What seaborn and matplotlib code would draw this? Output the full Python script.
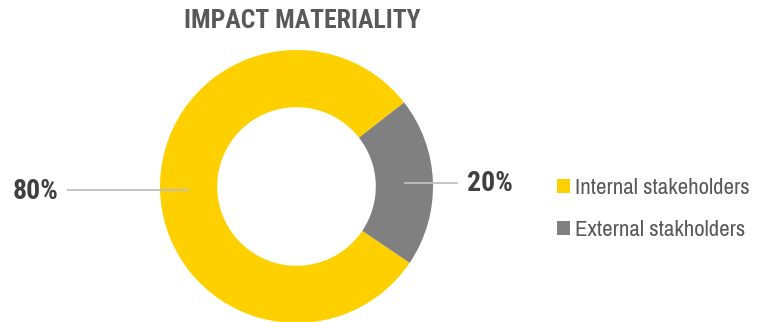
import numpy as np
import matplotlib
matplotlib.use("Agg")
import matplotlib.pyplot as plt
from matplotlib.patches import Patch
import seaborn as sns

# Data
categories = ["Internal stakeholders", "External stakholders"]
shares = [80, 20]
title = "IMPACT MATERIALITY"

sns.set_theme(style="white")
plt.rcParams["font.family"] = ["Archivo Narrow", "Liberation Sans", "DejaVu Sans"]
bold_family = ["Roboto Condensed", "Liberation Sans", "DejaVu Sans"]
colors = sns.color_palette(["#FFD000", "#808080"])

W, H = 759, 322
fig = plt.figure(figsize=(W / 100, H / 100), dpi=100)
ax = fig.add_axes([0, 0, 1, 1])
ax.set_aspect("equal")
ax.axis("off")

cx, cy = 296.5, H - 186.5
r_out, r_in = 136.5, 79.3
start = 38

wedges, _ = ax.pie(
    shares, colors=colors, startangle=start, counterclock=True,
    radius=r_out, center=(cx, cy),
    wedgeprops=dict(width=r_out - r_in, edgecolor="none"),
)
ax.set_xlim(0, W)
ax.set_ylim(0, H)

# Value labels with leader lines from the middle of each ring segment
r_mid = (r_out + r_in) / 2
label_color = "#404040"
line_color = "#BFBFBF"
for w, v in zip(wedges, shares):
    ang = np.deg2rad((w.theta1 + w.theta2) / 2)
    x0 = cx + r_mid * np.cos(ang)
    y0 = cy + r_mid * np.sin(ang)
    if np.cos(ang) < 0:
        x1, tx, ha = 67, 58.5, "right"
    else:
        x1, tx, ha = 458, 466.5, "left"
    ax.plot([x0, x1], [y0, y0], color=line_color, lw=1.3, solid_capstyle="butt")
    ax.text(tx, y0 - 1, f"{v}%", ha=ha, va="center", fontsize=20,
            fontweight="bold", color=label_color, family=bold_family)

fig.text(302.5 / W, 1 - 21.5 / H, title, ha="center", va="center",
         fontsize=18.5, fontweight="bold", color="#595959", family=bold_family)

handles = [Patch(facecolor=c, edgecolor="none") for c in colors]
leg = ax.legend(
    handles, categories, loc="center left",
    bbox_to_anchor=(557, H - 209), bbox_transform=ax.transData,
    frameon=False, fontsize=16.5, handlelength=0.55, handleheight=0.55,
    handletextpad=0.25, labelspacing=0.95, borderpad=0, borderaxespad=0,
)
for t in leg.get_texts():
    t.set_color("#595959")

fig.savefig("out.png", dpi=100, facecolor="white")
